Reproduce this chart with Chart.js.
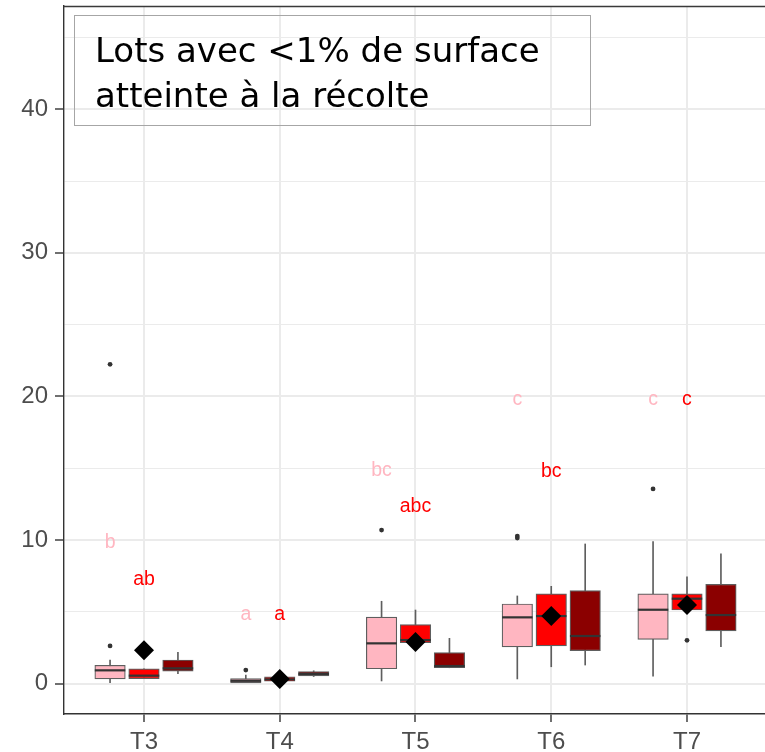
<!DOCTYPE html>
<html>
<head>
<meta charset="utf-8">
<script src="https://cdn.jsdelivr.net/npm/chart.js@4/dist/chart.umd.min.js"></script>
<style>
  html, body { margin: 0; padding: 0; background: #ffffff; overflow: hidden; }
  #wrap { width: 765px; height: 752px; }
</style>
</head>
<body>
<div id="wrap"><canvas id="c" width="765" height="752"></canvas></div>
<script>
// Treatment groups on the x axis
const categories = ['T3', 'T4', 'T5', 'T6', 'T7'];
const yTicks = [0, 5, 10, 15, 20, 25, 30, 35, 40, 45];

// Box statistics per series (one value per treatment)
const pinkQ1 = [0.33, 0.05, 1.04, 2.56, 3.09];
const pinkMedian = [0.93, 0.20, 2.81, 4.62, 5.15];
const pinkQ3 = [1.28, 0.35, 4.64, 5.55, 6.25];
const pinkWhiskerLow = [0.00, 0.00, 0.19, 0.33, 0.52];
const pinkWhiskerHigh = [1.65, 0.60, 5.74, 6.11, 9.89];

const redQ1 = [0.35, 0.17, 2.86, 2.63, 5.13];
const redMedian = [0.56, 0.30, 3.04, 4.71, 5.92];
const redQ3 = [1.04, 0.47, 4.11, 6.25, 6.25];
const redWhiskerLow = [0.35, 0.17, 2.86, 1.18, 5.13];
const redWhiskerHigh = [1.04, 0.47, 5.13, 6.78, 7.45];

const darkQ1 = [0.88, 0.54, 1.11, 2.30, 3.67];
const darkMedian = [1.07, 0.68, 1.23, 3.32, 4.78];
const darkQ3 = [1.65, 0.84, 2.16, 6.48, 6.92];
const darkWhiskerLow = [0.70, 0.50, 1.11, 1.30, 2.58];
const darkWhiskerHigh = [2.19, 0.90, 3.16, 9.73, 9.05];

// Outliers as [treatment index, value]
const pinkOutliers = [[0, 22.24], [0, 2.63], [1, 0.95], [2, 10.70], [3, 10.28], [3, 10.14], [4, 13.56]];
const redOutliers = [[4, 3.02]];
const darkOutliers = [];

// Group means (diamonds)
const means = [2.33, 0.33, 2.90, 4.71, 5.48];

// Significance letters and their heights
const pinkLetters = ['b', 'a', 'bc', 'c', 'c'];
const pinkLetterY = [9.80, 4.78, 14.81, 19.76, 19.76];
const redLetters = ['ab', 'a', 'abc', 'bc', 'c'];
const redLetterY = [7.27, 4.78, 12.33, 14.76, 19.76];

const titleLines = ['Lots avec <1% de surface', 'atteinte à la récolte'];

const PINK = '#FFB6C1', RED = '#FF0000', DARK = '#8B0000';
const DODGE = 0.25;
const BOX_W = 30.5;
const OUTLINE = '#5e5e5e';

function boxData(offset, lo, hi) {
  return categories.map((c, i) => ({ x: i + 1 + offset, y: [lo[i], hi[i]] }));
}
function pointData(offset, vals) {
  return categories.map((c, i) => ({ x: i + 1 + offset, y: vals[i] }));
}
function outlierData(offset, list) {
  return list.map(([i, v]) => ({ x: i + 1 + offset, y: v }));
}

const series = [
  { off: -DODGE, color: PINK, q1: pinkQ1, med: pinkMedian, q3: pinkQ3, wl: pinkWhiskerLow, wh: pinkWhiskerHigh, out: pinkOutliers },
  { off: 0, color: RED, q1: redQ1, med: redMedian, q3: redQ3, wl: redWhiskerLow, wh: redWhiskerHigh, out: redOutliers },
  { off: DODGE, color: DARK, q1: darkQ1, med: darkMedian, q3: darkQ3, wl: darkWhiskerLow, wh: darkWhiskerHigh, out: darkOutliers }
];

const datasets = [];
series.forEach(s => {
  datasets.push({
    type: 'bar', order: 5, data: boxData(s.off, s.wl, s.wh),
    backgroundColor: OUTLINE, borderWidth: 0, barThickness: 1, grouped: false
  });
  datasets.push({
    type: 'bar', order: 4, data: boxData(s.off, s.q1, s.q3),
    backgroundColor: s.color, borderColor: OUTLINE, borderWidth: 1.2,
    borderSkipped: false, barThickness: BOX_W, grouped: false
  });
  datasets.push({
    type: 'scatter', order: 3, data: pointData(s.off, s.med),
    pointStyle: 'line', pointRadius: BOX_W / 2, borderColor: '#333333', borderWidth: 2.2,
    backgroundColor: '#333333'
  });
  datasets.push({
    type: 'scatter', order: 1, data: outlierData(s.off, s.out),
    pointStyle: 'circle', pointRadius: 2.4, borderWidth: 0, backgroundColor: '#333333'
  });
});
datasets.push({
  type: 'scatter', order: 2, data: pointData(0, means),
  pointStyle: 'rectRot', pointRadius: 10, borderWidth: 0, backgroundColor: '#000000'
});

// Significance letters, panel frame and the caption box
const overlay = {
  id: 'overlay',
  afterDatasetsDraw(chart) {
    const ctx = chart.ctx, xs = chart.scales.x, ys = chart.scales.y, a = chart.chartArea;
    ctx.save();
    ctx.font = '19.5px "Liberation Sans", Arial, sans-serif';
    ctx.textAlign = 'center';
    ctx.textBaseline = 'middle';
    categories.forEach((c, i) => {
      ctx.fillStyle = PINK;
      ctx.fillText(pinkLetters[i], xs.getPixelForValue(i + 1 - DODGE), ys.getPixelForValue(pinkLetterY[i]));
      ctx.fillStyle = RED;
      ctx.fillText(redLetters[i], xs.getPixelForValue(i + 1), ys.getPixelForValue(redLetterY[i]));
    });
    // top frame line
    ctx.strokeStyle = '#3a3a3a';
    ctx.lineWidth = 1.4;
    ctx.beginPath();
    ctx.moveTo(a.left, a.top + 0.5);
    ctx.lineTo(a.right, a.top + 0.5);
    ctx.stroke();
    // caption box
    ctx.strokeStyle = '#a6a6a6';
    ctx.lineWidth = 1;
    ctx.strokeRect(a.left + 10.5, a.top + 9.5, 516, 110);
    ctx.fillStyle = '#000000';
    ctx.textAlign = 'left';
    ctx.textBaseline = 'alphabetic';
    ctx.font = '34px "DejaVu Sans", sans-serif';
    ctx.fillText(titleLines[0], a.left + 31, a.top + 56);
    ctx.fillText(titleLines[1], a.left + 31, a.top + 101);
    ctx.restore();
  }
};

const tickFont = { family: '"Liberation Sans", Arial, sans-serif', size: 24 };

new Chart(document.getElementById('c'), {
  type: 'bar',
  data: { datasets },
  plugins: [overlay],
  options: {
    responsive: false,
    animation: false,
    devicePixelRatio: 1,
    layout: { autoPadding: false, padding: { top: 6, right: 0, left: 0, bottom: 0 } },
    plugins: { legend: { display: false }, tooltip: { enabled: false } },
    scales: {
      x: {
        type: 'linear', offset: false,
        min: 0.4107, max: 5.5746,
        afterBuildTicks: s => { s.ticks = categories.map((c, i) => ({ value: i + 1 })); },
        afterFit: s => { s.height = 38; s.paddingLeft = 0; s.paddingRight = 0; },
        ticks: {
          callback: v => categories[Math.round(v) - 1] || '',
          font: tickFont, color: '#4D4D4D', padding: 6, maxRotation: 0, autoSkip: false
        },
        grid: { offset: false, color: '#EBEBEB', lineWidth: 2, tickLength: 8, tickColor: '#333333', tickWidth: 1.4 },
        border: { display: true, color: '#333333', width: 1.4 }
      },
      y: {
        type: 'linear',
        min: -2.11, max: 47.19,
        afterBuildTicks: s => { s.ticks = yTicks.map(v => ({ value: v })); },
        afterFit: s => { s.width = 64; s.paddingTop = 0; s.paddingBottom = 0; },
        ticks: {
          callback: v => (v % 10 === 0 ? String(v) : ''),
          font: tickFont, color: '#4D4D4D', padding: 7, autoSkip: false
        },
        grid: {
          color: '#EBEBEB',
          lineWidth: c => (c.tick && c.tick.value % 10 === 0 ? 2 : 1),
          tickLength: 9,
          tickColor: c => (c.tick && c.tick.value % 10 === 0 ? '#333333' : 'rgba(0,0,0,0)'),
          tickWidth: 1.4
        },
        border: { display: true, color: '#333333', width: 1.4 }
      }
    }
  }
});
</script>
</body>
</html>
